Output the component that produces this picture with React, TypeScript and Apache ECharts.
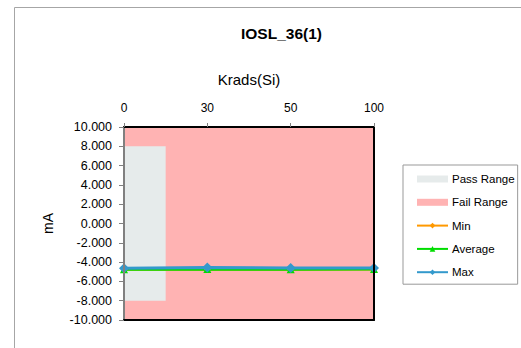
import React, { useEffect, useRef } from "react";
import * as echarts from "echarts";

const categories = ["0", "30", "50", "100"];
const minValues = [-4.75, -4.72, -4.74, -4.72];
const avgValues = [-4.74, -4.72, -4.74, -4.72];
const maxValues = [-4.64, -4.56, -4.6, -4.6];
const passRangeX = [0, 0.5];
const passRangeY = [-8, 8];
const failRangeX = [0, 3];
const failRangeY = [-10, 10];
const yTicks = { min: -10, max: 10, interval: 2 };

const FONT = "Liberation Sans, Arial, sans-serif";

function rectRenderer(color: string) {
  return (params: any, api: any) => {
    const p0 = api.coord([api.value(0), api.value(3)]);
    const p1 = api.coord([api.value(1), api.value(2)]);
    return {
      type: "rect",
      shape: { x: p0[0], y: p0[1], width: p1[0] - p0[0], height: p1[1] - p0[1] },
      style: { fill: color },
    };
  };
}

export default function App() {
  const ref = useRef<HTMLDivElement>(null);
  useEffect(() => {
    if (!ref.current) return;
    const chart = echarts.init(ref.current, undefined, { renderer: "svg" });
    const lineSeries = (name: string, data: number[], color: string, symbol: string, size: number) => ({
      name,
      type: "line",
      data,
      xAxisIndex: 0,
      yAxisIndex: 0,
      symbol,
      symbolSize: size,
      lineStyle: { color, width: 3 },
      itemStyle: { color },
      z: 5,
    });
    chart.setOption({
      animation: false,
      backgroundColor: "#fff",
      title: {
        text: "IOSL_36(1)",
        left: 236,
        top: 20,
        textStyle: { fontFamily: FONT, fontSize: 15.5, fontWeight: "bold", color: "#000" },
      },
      legend: {
        orient: "vertical",
        left: 403,
        top: 165,
        padding: [8, 3, 6, 13],
        itemGap: 11.3,
        itemWidth: 31,
        itemHeight: 7,
        borderColor: "#999",
        borderWidth: 1,
        textStyle: { fontFamily: FONT, fontSize: 11.5, color: "#000", padding: [0, 0, 0, -1] },
        data: [
          { name: "Pass Range", icon: "rect" },
          { name: "Fail Range", icon: "rect" },
          { name: "Min" },
          { name: "Average" },
          { name: "Max" },
        ],
      },
      grid: { left: 124, top: 127, right: 147, bottom: 28, containLabel: false },
      xAxis: [
        {
          type: "category",
          position: "top",
          data: categories,
          boundaryGap: false,
          name: "Krads(Si)",
          nameLocation: "middle",
          nameGap: 40,
          nameTextStyle: { fontFamily: FONT, fontSize: 15, color: "#000" },
          axisLine: { show: true, onZero: false, lineStyle: { color: "#000", width: 2 } },
          axisTick: { show: true, inside: false, length: 4, lineStyle: { color: "#808080" } },
          axisLabel: { fontFamily: FONT, fontSize: 12, color: "#000", margin: 13 },
          splitLine: { show: false },
          z: 10,
        },
        {
          type: "value",
          position: "bottom",
          min: failRangeX[0],
          max: failRangeX[1],
          axisLine: { show: true, onZero: false, lineStyle: { color: "#000", width: 2 } },
          axisTick: { show: false },
          axisLabel: { show: false },
          splitLine: { show: false },
          z: 10,
        },
      ],
      yAxis: [
        {
          type: "value",
          min: yTicks.min,
          max: yTicks.max,
          interval: yTicks.interval,
          name: "mA",
          nameLocation: "middle",
          nameGap: 69,
          nameRotate: 90,
          nameTextStyle: { fontFamily: FONT, fontSize: 14, color: "#000" },
          axisLine: { show: true, onZero: false, lineStyle: { color: "#808080", width: 2 } },
          axisTick: { show: true, inside: false, length: 5, lineStyle: { color: "#808080" } },
          axisLabel: {
            fontFamily: FONT,
            fontSize: 12.5,
            color: "#000",
            margin: 12,
            formatter: (v: number) => v.toFixed(3),
          },
          splitLine: { show: false },
          z: 10,
        },
        {
          type: "value",
          position: "right",
          min: yTicks.min,
          max: yTicks.max,
          interval: yTicks.interval,
          axisLine: { show: true, onZero: false, lineStyle: { color: "#000", width: 2 } },
          axisTick: { show: false },
          axisLabel: { show: false },
          splitLine: { show: false },
          z: 10,
        },
      ],
      graphic: [
        {
          type: "line",
          shape: { x1: 14.5, y1: 7.5, x2: 521, y2: 7.5 },
          style: { stroke: "#a6a6a6", lineWidth: 1 },
        },
        {
          type: "line",
          shape: { x1: 14.5, y1: 7.5, x2: 14.5, y2: 348 },
          style: { stroke: "#a6a6a6", lineWidth: 1 },
        },
      ],
      series: [
        {
          name: "Fail Range",
          type: "custom",
          xAxisIndex: 1,
          yAxisIndex: 0,
          renderItem: rectRenderer("#FFB3B3"),
          itemStyle: { color: "#FFB3B3" },
          encode: { x: [0, 1], y: [2, 3] },
          data: [[failRangeX[0], failRangeX[1], failRangeY[0], failRangeY[1]]],
          z: 1,
        },
        {
          name: "Pass Range",
          type: "custom",
          xAxisIndex: 1,
          yAxisIndex: 0,
          renderItem: rectRenderer("#E6EBEB"),
          itemStyle: { color: "#E6EBEB" },
          encode: { x: [0, 1], y: [2, 3] },
          data: [[passRangeX[0], passRangeX[1], passRangeY[0], passRangeY[1]]],
          z: 2,
        },
        lineSeries("Min", minValues, "#FF9900", "diamond", 7),
        lineSeries("Average", avgValues, "#00DD00", "triangle", 8),
        lineSeries("Max", maxValues, "#3399CC", "diamond", 10),
      ],
    });
    return () => chart.dispose();
  }, []);
  return (
    <div
      ref={ref}
      style={{ position: "fixed", left: 0, top: 0, width: 521, height: 348, background: "#fff" }}
    />
  );
}
